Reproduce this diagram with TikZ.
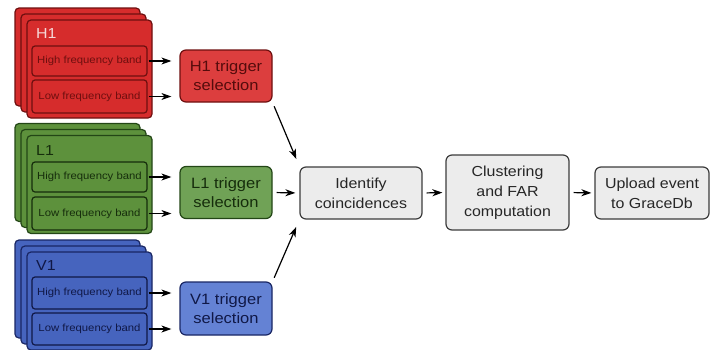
\documentclass[tikz,border=0pt]{standalone}
\usepackage{fontspec}
\setmainfont[FakeStretch=1.1]{Liberation Sans}
\usetikzlibrary{arrows.meta}
\definecolor{rfill}{RGB}{214,44,44}
\definecolor{rdark}{RGB}{110,15,15}
\definecolor{rtrig}{RGB}{220,62,62}
\definecolor{rtext}{RGB}{245,215,215}
\definecolor{rtrigtext}{RGB}{85,12,12}
\definecolor{gfill}{RGB}{93,145,60}
\definecolor{gdark}{RGB}{35,70,22}
\definecolor{gtrig}{RGB}{112,162,86}
\definecolor{gtext}{RGB}{22,45,12}
\definecolor{bfill}{RGB}{70,100,190}
\definecolor{bdark}{RGB}{25,38,100}
\definecolor{btrig}{RGB}{100,130,212}
\definecolor{btext}{RGB}{16,24,70}
\definecolor{gyfill}{RGB}{236,236,236}
\definecolor{gydark}{RGB}{60,60,60}
\tikzset{
  sheet/.style 2 args={draw=#1,fill=#2,rounded corners=4pt,line width=1.2pt,inner sep=0pt,minimum width=125pt,minimum height=98pt},
  band/.style 2 args={draw=#1,fill=#2,text=#1,rounded corners=3pt,line width=1.2pt,inner sep=0pt,minimum width=115pt,font=\fontsize{10.3}{12}\selectfont},
  det/.style={anchor=base west,inner sep=0pt,font=\fontsize{14.5}{16}\selectfont},
  trig/.style n args={3}{draw=#1,fill=#2,text=#3,rounded corners=6pt,line width=1.2pt,inner sep=0pt,minimum width=92pt,minimum height=52pt,align=center,font=\fontsize{15}{19}\selectfont},
  proc/.style={draw=gydark,fill=gyfill,text=black!85,rounded corners=6pt,line width=1.2pt,inner sep=0pt,align=center,font=\fontsize{14.5}{20}\selectfont},
  arr/.style={draw=black,line width=1.2pt,-{Stealth[length=10pt,width=7pt,inset=3pt]}}
}
\begin{document}
\begin{tikzpicture}[x=1pt,y=-1pt]
\useasboundingbox (0,0) rectangle (712,349);
\clip (0,0) rectangle (712,349);
% H1
\node[sheet={rdark}{rfill}] (h1s3) at (77.5,57) {};
\node[sheet={rdark}{rfill}] (h1s2) at (83.5,63) {};
\node[sheet={rdark}{rfill}] (h1s1) at (89.5,69) {};
\node[det,text=rtext] (h1l) at (36,38) {H1};
\node[band={rdark}{rfill},minimum height=30pt] (h1hi) at (89.5,61) {High frequency band};
\node[band={rdark}{rfill},minimum height=33pt] (h1lo) at (89.5,96.5) {Low frequency band};
\node[trig={rdark}{rtrig}{rtrigtext}] (h1t) at (226,76) {H1 trigger\\selection};
% L1
\node[sheet={gdark}{gfill}] (l1s3) at (77.5,172.5) {};
\node[sheet={gdark}{gfill}] (l1s2) at (83.5,178.5) {};
\node[sheet={gdark}{gfill}] (l1s1) at (89.5,184.5) {};
\node[det,text=gtext] (l1l) at (36,155) {L1};
\node[band={gtext}{gfill},minimum height=30pt] (l1hi) at (89.5,177) {High frequency band};
\node[band={gtext}{gfill},minimum height=33pt] (l1lo) at (89.5,213.5) {Low frequency band};
\node[trig={gdark}{gtrig}{gtext}] (l1t) at (226,192.5) {L1 trigger\\selection};
% V1
\node[sheet={bdark}{bfill}] (v1s3) at (77.5,289) {};
\node[sheet={bdark}{bfill}] (v1s2) at (83.5,295) {};
\node[sheet={bdark}{bfill}] (v1s1) at (89.5,301) {};
\node[det,text=btext] (v1l) at (36,270) {V1};
\node[band={btext}{bfill},minimum height=32pt] (v1hi) at (89.5,293) {High frequency band};
\node[band={btext}{bfill},minimum height=32pt] (v1lo) at (89.5,329) {Low frequency band};
\node[trig={bdark}{btrig}{btext},minimum height=53pt] (v1t) at (226,308.5) {V1 trigger\\selection};
% processing
\node[proc,minimum width=122pt,minimum height=52pt] (coinc) at (361,193) {Identify\\coincidences};
\node[proc,minimum width=123pt,minimum height=75pt] (clus) at (507.5,192.5) {Clustering\\and FAR\\computation};
\node[proc,minimum width=114pt,minimum height=52pt] (up) at (652,193) {Upload event\\to GraceDb};
% arrows
\foreach \d in {h1,l1,v1}{
  \draw[arr,shorten <=1pt,shorten >=8pt] (\d hi.east) -- (\d hi.east -| \d t.west);
  \draw[arr,shorten <=1pt,shorten >=8pt] (\d lo.east) -- (\d lo.east -| \d t.west);
}
\draw[arr,shorten <=4pt,shorten >=4pt] (l1t.east) -- (coinc.west);
\draw[arr,shorten <=4pt,shorten >=8pt] (h1t.south east) -- (coinc.north west);
\draw[arr,shorten <=4pt,shorten >=8pt] (v1t.north east) -- (coinc.south west);
\draw[arr,shorten <=4pt,shorten >=3pt] (coinc.east) -- (clus.west);
\draw[arr,shorten <=4pt,shorten >=3pt] (clus.east) -- (up.west);
\end{tikzpicture}
\end{document}
